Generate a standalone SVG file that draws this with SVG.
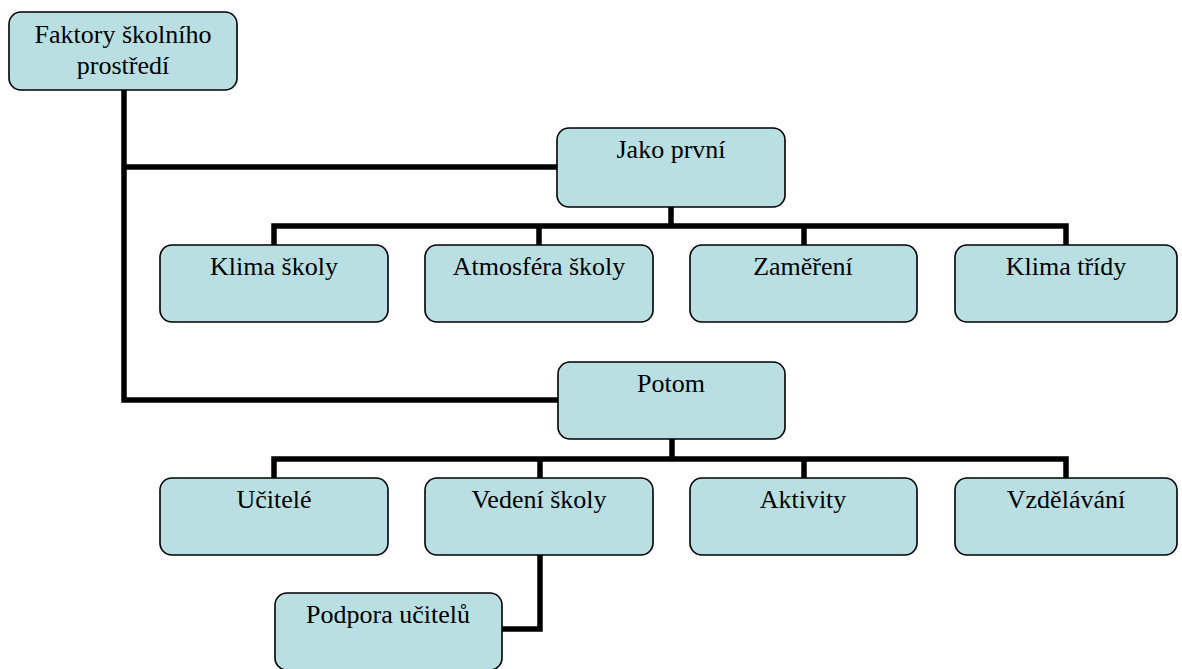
<svg xmlns="http://www.w3.org/2000/svg" width="1182" height="669" viewBox="0 0 1182 669">
<style>
.box{fill:#b9dfe2;stroke:#000;stroke-width:1.6}
.t{font-family:"Liberation Serif","Times New Roman",serif;font-size:26px;fill:#000;text-anchor:middle}
.c{fill:none;stroke:#000;stroke-width:5.5;stroke-linejoin:miter;stroke-linecap:butt}
</style>
<rect width="1182" height="669" fill="#fff"/>
<g id="connectors">
<path class="c" d="M124,90 V400 H558"/>
<path class="c" d="M124,167 H557"/>
<path class="c" d="M671,207 V226"/>
<path class="c" d="M274,245 V226 H1066 V245"/>
<path class="c" d="M539,226 V245"/>
<path class="c" d="M804,226 V245"/>
<path class="c" d="M672,439 V459"/>
<path class="c" d="M274,478 V459 H1066 V478"/>
<path class="c" d="M540,459 V478"/>
<path class="c" d="M804,459 V478"/>
<path class="c" d="M540,555 V629 H502"/>
</g>
<g id="n-root"><rect class="box" x="9" y="12" width="228" height="78" rx="12"/><text class="t" x="123" y="43">Faktory školního</text><text class="t" x="123" y="74">prostředí</text></g>
<g id="n-jako"><rect class="box" x="557" y="128" width="228" height="79" rx="12"/><text class="t" x="671" y="158">Jako první</text></g>
<g id="n-klima-skoly"><rect class="box" x="160" y="245" width="228" height="77" rx="12"/><text class="t" x="274" y="275">Klima školy</text></g>
<g id="n-atmosfera"><rect class="box" x="425" y="245" width="228" height="77" rx="12"/><text class="t" x="539" y="275">Atmosféra školy</text></g>
<g id="n-zamereni"><rect class="box" x="690" y="245" width="227" height="77" rx="12"/><text class="t" x="803" y="275">Zaměření</text></g>
<g id="n-klima-tridy"><rect class="box" x="955" y="245" width="222" height="77" rx="12"/><text class="t" x="1066" y="275">Klima třídy</text></g>
<g id="n-potom"><rect class="box" x="558" y="362" width="227" height="77" rx="12"/><text class="t" x="671" y="392">Potom</text></g>
<g id="n-ucitele"><rect class="box" x="160" y="478" width="228" height="77" rx="12"/><text class="t" x="274" y="508">Učitelé</text></g>
<g id="n-vedeni"><rect class="box" x="425" y="478" width="228" height="77" rx="12"/><text class="t" x="539" y="508">Vedení školy</text></g>
<g id="n-aktivity"><rect class="box" x="690" y="478" width="227" height="77" rx="12"/><text class="t" x="803" y="508">Aktivity</text></g>
<g id="n-vzdelavani"><rect class="box" x="955" y="478" width="222" height="77" rx="12"/><text class="t" x="1066" y="508">Vzdělávání</text></g>
<g id="n-podpora"><rect class="box" x="275" y="593" width="227" height="77" rx="12"/><text class="t" x="388" y="623">Podpora učitelů</text></g>
</svg>
